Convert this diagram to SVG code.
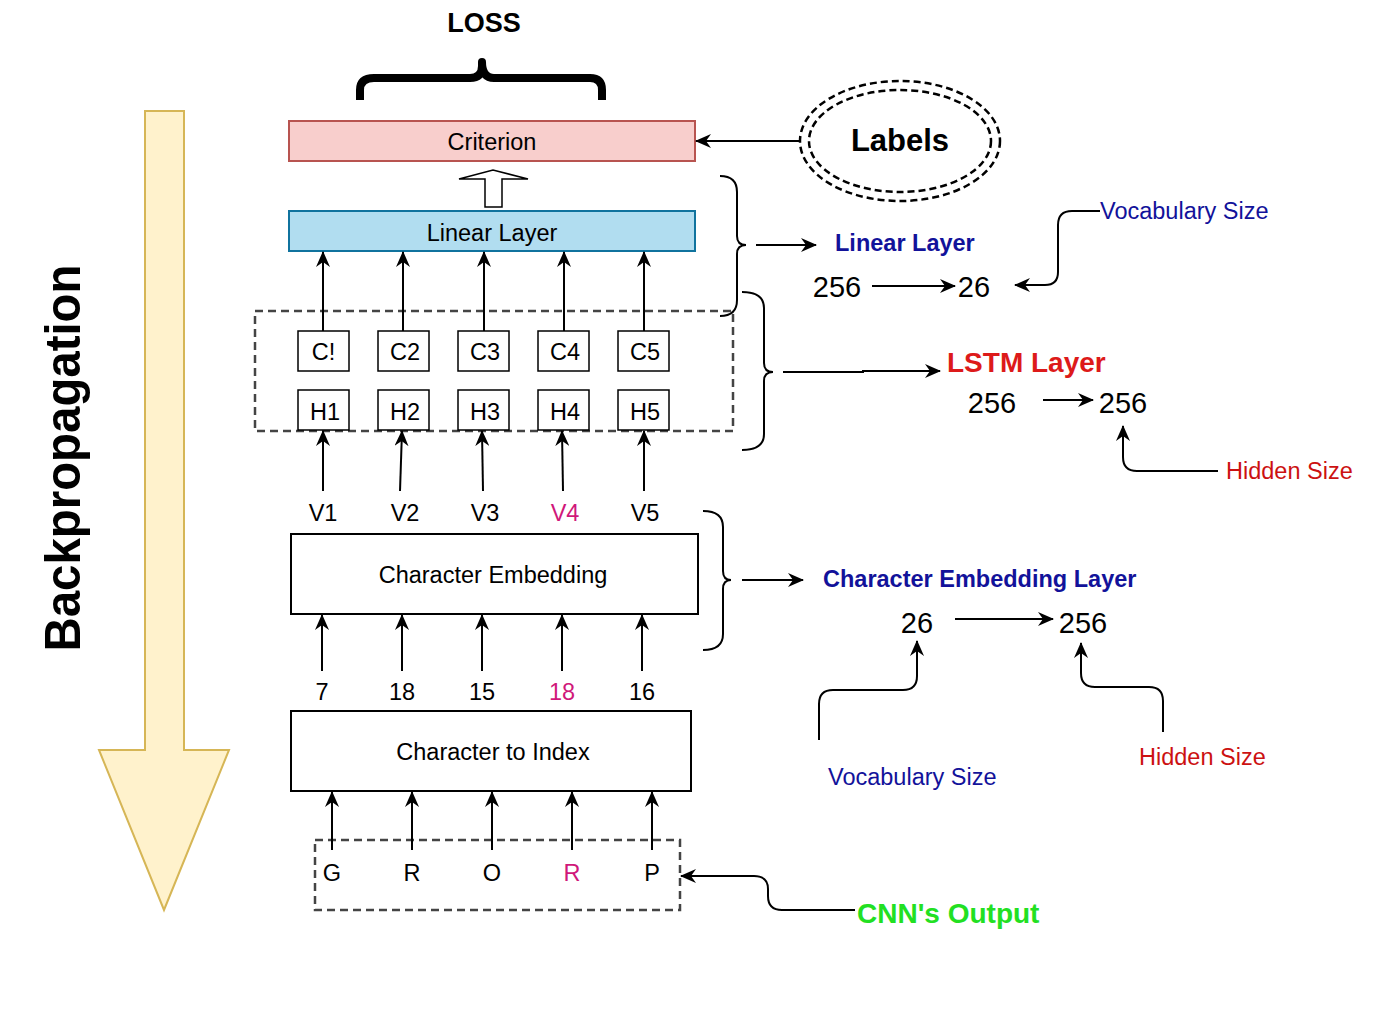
<svg xmlns="http://www.w3.org/2000/svg" width="1383" height="1021" viewBox="0 0 1383 1021">
<style>
text{font-family:"Liberation Sans",Arial,Helvetica,sans-serif;fill:#000}
.t{font-size:23.5px;text-anchor:middle}
.b{font-weight:bold}
.box{fill:#fff;stroke:#000;stroke-width:2}
.sbox{fill:#fff;stroke:#000;stroke-width:1.5}
.dash{fill:none;stroke:#444;stroke-width:2.5;stroke-dasharray:8 5}
.c{fill:none;stroke:#000;stroke-width:2}
.a{fill:none;stroke:#000;stroke-width:2;marker-end:url(#arr)}
.blue{fill:#12129a}
.red{fill:#dd1a1a}
.red2{fill:#cc1111}
.mag{fill:#d0187a}
</style>
<defs>
<marker id="arr" viewBox="0 0 16 14" refX="15" refY="7" markerWidth="16" markerHeight="14" orient="auto" markerUnits="userSpaceOnUse">
<path d="M0,0 L16,7 L0,14 L5,7 Z" fill="#000"/>
</marker>
</defs>
<rect width="1383" height="1021" fill="#fff"/>

<g id="backprop">
<polygon points="145,111 184,111 184,750 229,750 164,910 99,750 145,750" fill="#fff2cc" stroke="#d6b656" stroke-width="2"/>
<text class="b" font-size="50" text-anchor="middle" textLength="387" lengthAdjust="spacingAndGlyphs" transform="translate(80,458) rotate(-90)">Backpropagation</text>
</g>

<g id="loss">
<text class="b" x="484" y="32" font-size="27" text-anchor="middle">LOSS</text>
<path d="M360 100 L360 90 Q360 78 374 78 L470 78 Q482 78 482 66 L482 62 Q482 78 494 78 L590 78 Q602 78 602 90 L602 100" fill="none" stroke="#000" stroke-width="8" stroke-linejoin="round"/>
</g>

<g id="criterion">
<rect x="289" y="121" width="406" height="40" fill="#f8cecc" stroke="#b85450" stroke-width="2"/>
<text class="t" x="492" y="150">Criterion</text>
</g>

<g id="labels">
<ellipse cx="900" cy="141" rx="100" ry="60" fill="none" stroke="#000" stroke-width="2.5" stroke-dasharray="7 4"/>
<ellipse cx="900" cy="141" rx="91" ry="51" fill="none" stroke="#000" stroke-width="2.5" stroke-dasharray="7 4"/>
<text class="b" x="900" y="151" font-size="31" text-anchor="middle">Labels</text>
</g>

<g id="linear">
<rect x="289" y="211" width="406" height="40" fill="#b1ddf0" stroke="#10739e" stroke-width="2"/>
<text class="t" x="492" y="241">Linear Layer</text>
</g>

<g id="lstm">
<rect class="dash" x="255" y="311" width="478" height="120"/>
<rect class="sbox" x="298" y="331" width="51" height="40"/><text class="t" x="323.5" y="360">C!</text>
<rect class="sbox" x="378" y="331" width="51" height="40"/><text class="t" x="405" y="360">C2</text>
<rect class="sbox" x="458" y="331" width="51" height="40"/><text class="t" x="485" y="360">C3</text>
<rect class="sbox" x="538" y="331" width="51" height="40"/><text class="t" x="565" y="360">C4</text>
<rect class="sbox" x="618" y="331" width="51" height="40"/><text class="t" x="645" y="360">C5</text>
<rect class="sbox" x="298" y="390" width="51" height="40"/><text class="t" x="325" y="420">H1</text>
<rect class="sbox" x="378" y="390" width="51" height="40"/><text class="t" x="405" y="420">H2</text>
<rect class="sbox" x="458" y="390" width="51" height="40"/><text class="t" x="485" y="420">H3</text>
<rect class="sbox" x="538" y="390" width="51" height="40"/><text class="t" x="565" y="420">H4</text>
<rect class="sbox" x="618" y="390" width="51" height="40"/><text class="t" x="645" y="420">H5</text>
</g>

<g id="vectors">
<text class="t" x="323" y="521">V1</text>
<text class="t" x="405" y="521">V2</text>
<text class="t" x="485" y="521">V3</text>
<text class="t mag" x="565" y="521">V4</text>
<text class="t" x="645" y="521">V5</text>
</g>

<g id="char-embedding">
<rect class="box" x="291" y="534" width="407" height="80"/>
<text class="t" x="493" y="583">Character Embedding</text>
</g>

<g id="indices">
<text class="t" x="322" y="700">7</text>
<text class="t" x="402" y="700">18</text>
<text class="t" x="482" y="700">15</text>
<text class="t mag" x="562" y="700">18</text>
<text class="t" x="642" y="700">16</text>
</g>

<g id="char-to-index">
<rect class="box" x="291" y="711" width="400" height="80"/>
<text class="t" x="493" y="760">Character to Index</text>
</g>

<g id="input">
<rect class="dash" x="315" y="840" width="365" height="70"/>
<text class="t" x="332" y="881">G</text>
<text class="t" x="412" y="881">R</text>
<text class="t" x="492" y="881">O</text>
<text class="t mag" x="572" y="881">R</text>
<text class="t" x="652" y="881">P</text>
</g>

<g id="cnn-output">
<text class="b" x="857" y="923" font-size="28" style="fill:#22e022">CNN's Output</text>
</g>

<g id="linear-info">
<text class="b blue" x="835" y="251" font-size="23.5">Linear Layer</text>
<text x="837" y="297" font-size="29" text-anchor="middle">256</text>
<text x="974" y="297" font-size="29" text-anchor="middle">26</text>
<text class="blue" x="1100" y="219" font-size="23.5">Vocabulary Size</text>
</g>

<g id="lstm-info">
<text class="b red" x="947" y="372" font-size="28">LSTM Layer</text>
<text x="992" y="413" font-size="29" text-anchor="middle">256</text>
<text x="1123" y="413" font-size="29" text-anchor="middle">256</text>
<text class="red2" x="1226" y="479" font-size="23.5">Hidden Size</text>
</g>

<g id="embedding-info">
<text class="b blue" x="823" y="587" font-size="23.5">Character Embedding Layer</text>
<text x="917" y="633" font-size="29" text-anchor="middle">26</text>
<text x="1083" y="633" font-size="29" text-anchor="middle">256</text>
<text class="blue" x="828" y="785" font-size="23.5">Vocabulary Size</text>
<text class="red2" x="1139" y="765" font-size="23.5">Hidden Size</text>
</g>

<g id="connectors">
<polygon points="485,207 485,179 459,179 493,170 528,179 502,179 502,207" fill="#fff" stroke="#000" stroke-width="1.5"/>
<path class="a" d="M800 141 L696 141"/>
<path class="a" d="M323 331 L323 252"/>
<path class="a" d="M403 331 L403 252"/>
<path class="a" d="M484 331 L484 252"/>
<path class="a" d="M564 331 L564 252"/>
<path class="a" d="M644 331 L644 252"/>
<path class="a" d="M323 491 L323 431"/>
<path class="a" d="M400 491 L402 431"/>
<path class="a" d="M483 491 L482 431"/>
<path class="a" d="M563 491 L562 431"/>
<path class="a" d="M644 491 L644 431"/>
<path class="a" d="M322 671 L322 615"/>
<path class="a" d="M402 671 L402 615"/>
<path class="a" d="M482 671 L482 615"/>
<path class="a" d="M562 671 L562 615"/>
<path class="a" d="M642 671 L642 615"/>
<path class="a" d="M332 850 L332 792"/>
<path class="a" d="M412 850 L412 792"/>
<path class="a" d="M492 850 L492 792"/>
<path class="a" d="M572 850 L572 792"/>
<path class="a" d="M652 850 L652 792"/>
<path class="c" d="M720 176 Q737 176 737 192 L737 236 Q737 245 746 245 Q737 245 737 254 L737 300 Q737 316 720 316"/>
<path class="a" d="M756 245 L816 245"/>
<path class="c" d="M742 292 Q764 292 764 308 L764 363 Q764 372 773 372 Q764 372 764 381 L764 434 Q764 450 742 450"/>
<path class="a" d="M783 372 L863 372 L863 371 L940 371"/>
<path class="c" d="M703 511 Q723 511 723 527 L723 571 Q723 580 731 580 Q723 580 723 589 L723 634 Q723 650 703 650"/>
<path class="a" d="M742 580 L803 580"/>
<path class="a" d="M872 286 L955 286"/>
<path class="a" d="M1043 400 L1093 400"/>
<path class="a" d="M955 619 L1053 619"/>
<path class="a" d="M1100 211 L1072 211 Q1058 211 1058 225 L1058 272 Q1058 285 1045 285 L1015 285"/>
<path class="a" d="M1218 471 L1137 471 Q1123 471 1123 457 L1123 426"/>
<path class="a" d="M819 740 L819 704 Q819 690 833 690 L903 690 Q917 690 917 676 L917 641"/>
<path class="a" d="M1163 732 L1163 701 Q1163 687 1149 687 L1095 687 Q1081 687 1081 673 L1081 643"/>
<path class="a" d="M855 910 L782 910 Q768 910 768 896 L768 889 Q768 876 754 876 L681 876"/>
</g>
</svg>
